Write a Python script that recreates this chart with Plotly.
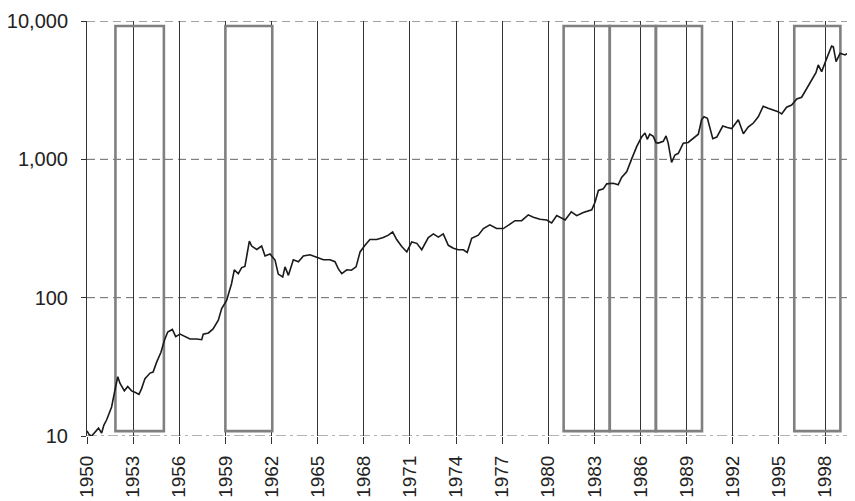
import plotly.graph_objects as go

# index level (decimal year, value)
years = [1950.0, 1950.15, 1950.3, 1950.5, 1950.75, 1950.95, 1951.1, 1951.28, 1951.45, 1951.6,
         1951.82, 1952.0, 1952.15, 1952.26, 1952.43, 1952.65, 1952.9, 1953.15, 1953.38, 1953.55,
         1953.77, 1954.1, 1954.3, 1954.53, 1954.81, 1955.03, 1955.25, 1955.55, 1955.77, 1956.05,
         1956.37, 1956.7, 1957.13, 1957.46, 1957.56, 1957.9, 1958.2, 1958.54, 1958.76, 1959.08,
         1959.4, 1959.58, 1959.84, 1960.06, 1960.27, 1960.56, 1960.71, 1961.04, 1961.36, 1961.58,
         1961.9, 1962.23, 1962.44, 1962.73, 1962.88, 1963.1, 1963.42, 1963.75, 1964.07, 1964.5,
         1964.94, 1965.37, 1965.8, 1966.13, 1966.34, 1966.57, 1966.9, 1967.2, 1967.5, 1967.76,
         1968.08, 1968.4, 1968.84, 1969.27, 1969.6, 1969.88, 1970.14, 1970.47, 1970.8, 1971.12,
         1971.45, 1971.77, 1972.2, 1972.53, 1972.85, 1973.17, 1973.5, 1973.83, 1974.15, 1974.48,
         1974.73, 1975.02, 1975.45, 1975.78, 1976.2, 1976.64, 1977.08, 1977.4, 1977.84, 1978.27,
         1978.7, 1979.03, 1979.46, 1979.9, 1980.22, 1980.55, 1980.87, 1981.1, 1981.5, 1981.85,
         1982.28, 1982.83, 1983.04, 1983.26, 1983.58, 1983.8, 1984.23, 1984.55, 1984.77, 1985.1,
         1985.42, 1985.75, 1986.07, 1986.29, 1986.44, 1986.6, 1986.83, 1987.0, 1987.15, 1987.48,
         1987.66, 1987.8, 1988.02, 1988.24, 1988.46, 1988.78, 1989.1, 1989.43, 1989.76, 1989.97,
         1990.13, 1990.35, 1990.7, 1990.96, 1991.35, 1991.65, 1991.93, 1992.36, 1992.69, 1993.0,
         1993.34, 1993.66, 1993.98, 1994.3, 1994.63, 1994.95, 1995.18, 1995.5, 1995.83, 1996.16,
         1996.48, 1996.8, 1997.13, 1997.41, 1997.56, 1997.78, 1998.11, 1998.43, 1998.54, 1998.72,
         1998.98, 1999.3, 1999.62, 1999.84]
index = [10.9, 10.2, 10.0, 10.6, 11.4, 10.5, 12.0, 13.1, 14.5, 16.2,
         21.5, 26.8, 24.0, 22.6, 21.2, 22.8, 21.2, 20.6, 20.0, 22.0,
         26.0, 28.5, 29.0, 34.2, 40.3, 49, 56.5, 58.9, 52.3, 54.5,
         52.3, 50.2, 50.2, 49.7, 54.5, 55.6, 59.5, 68.8, 83.3, 95.5,
         126, 159, 149, 165, 168, 256, 236, 223, 236, 200,
         207, 187, 148, 141, 167, 145, 188, 182, 200, 204,
         196, 188, 188, 182, 162, 149, 159, 158, 167, 214,
         239, 263, 263, 272, 283, 299, 263, 234, 214, 253,
         247, 222, 272, 289, 274, 289, 239, 228, 222, 222,
         212, 269, 283, 316, 336, 316, 316, 336, 360, 360,
         397, 382, 369, 364, 347, 392, 375, 364, 418, 392,
         413, 432, 490, 596, 612, 665, 672, 655, 740, 812,
         1003, 1236, 1449, 1550, 1395, 1520, 1465, 1320, 1310, 1350,
         1478, 1310, 950, 1075, 1105, 1310, 1325, 1410, 1520, 1930,
         2030, 1980, 1410, 1449, 1740, 1700, 1670, 1930, 1530, 1710,
         1830, 2030, 2420, 2340, 2270, 2210, 2130, 2380, 2470, 2730,
         2810, 3250, 3730, 4230, 4810, 4300, 5370, 6600, 6520, 5080,
         5840, 5680, 6000, 7500]

# highlighted periods (start year, end year)
box_start = [1951.85, 1959.0, 1981.0, 1984.0, 1987.0, 1996.0]
box_end = [1955.0, 1962.05, 1984.0, 1987.0, 1990.0, 1999.0]

x_ticks = list(range(1950, 1999, 3))
y_ticks = [10, 100, 1000, 10000]

fig = go.Figure()

fig.add_trace(go.Scatter(x=years, y=index, mode='lines',
                         line=dict(color='#1a1a1a', width=1.6),
                         showlegend=False, hoverinfo='skip'))

# horizontal reference lines: dashed, bottom one dash-dot
for v in y_ticks:
    fig.add_shape(type='line', xref='paper', x0=0, x1=1, y0=v, y1=v,
                  line=dict(color='#444444' if v == 10000 else '#666666', width=1,
                            dash='10px,4px,3px,4px' if v == 10 else '8px,5px'),
                  layer='between')

for s, e in zip(box_start, box_end):
    fig.add_shape(type='rect', x0=s, x1=e, y0=10.85, y1=9200,
                  line=dict(color='#808080', width=2.6), layer='between')

# page body has an 8px margin, so the figure is sized/offset to fill the window
fig.update_layout(
    width=847, height=493,
    margin=dict(l=79, r=0, t=13, b=65),
    paper_bgcolor='white', plot_bgcolor='white',
    font=dict(family='Liberation Sans, Arial, sans-serif', size=20, color='#222222'),
)

fig.update_xaxes(range=[1950, 1999.95], tickvals=x_ticks, tickformat='d',
                 tickangle=-90, ticks='outside', ticklen=7, tickcolor='#333333',
                 tickfont=dict(size=19),
                 showgrid=True, gridcolor='#333333', gridwidth=1,
                 zeroline=False, showline=False, ticklabelstandoff=4,
                 automargin=False)
fig.update_yaxes(type='log', range=[1, 4], tickvals=y_ticks, tickformat=',',
                 ticks='outside', ticklen=5, tickcolor='#333333',
                 showgrid=False, zeroline=False,
                 showline=True, linecolor='#333333', linewidth=1,
                 ticklabelstandoff=9, automargin=False)

fig.write_html("out.html")
